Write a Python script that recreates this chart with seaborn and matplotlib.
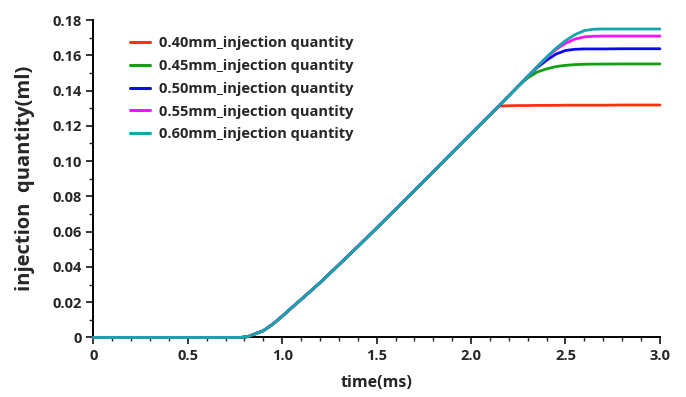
import numpy as np
import pandas as pd
import matplotlib
matplotlib.use("Agg")
import matplotlib.pyplot as plt
from matplotlib.ticker import MultipleLocator, FuncFormatter
import seaborn as sns

# Sampling times (ms)
time_ms = [0, 0.5, 0.78, 0.82, 0.86, 0.9, 0.95, 1.0, 1.05, 1.1, 1.2, 1.3, 1.4,
           1.5, 1.6, 1.7, 1.8, 1.9, 2.0, 2.1,
           2.15, 2.2, 2.25, 2.3, 2.35, 2.4, 2.45, 2.5, 2.55, 2.6, 2.65, 2.7, 2.8, 3.0]

# Shared rising part (all openings coincide until ~2.1 ms)
rise_common = [0, 0, 0, 0.0005, 0.0022, 0.0038, 0.0075, 0.0120, 0.0168, 0.0215,
               0.0310, 0.0412, 0.0515, 0.0620, 0.0726, 0.0833, 0.0940, 0.1048,
               0.1155, 0.1262]

# Tail of each curve from 2.15 ms on (ml)
tail_040 = [0.1312, 0.1314, 0.1315, 0.1315, 0.1316, 0.1316, 0.1316, 0.1317,
            0.1317, 0.1317, 0.1317, 0.1317, 0.1318, 0.1318]
tail_045 = [0.1316, 0.1370, 0.1425, 0.1472, 0.1505, 0.1523, 0.1536, 0.1543,
            0.1547, 0.1549, 0.1550, 0.1550, 0.1551, 0.1551]
tail_050 = [0.1316, 0.1370, 0.1425, 0.1480, 0.1530, 0.1572, 0.1607, 0.1627,
            0.1634, 0.1636, 0.1636, 0.1636, 0.1637, 0.1637]
tail_055 = [0.1316, 0.1370, 0.1425, 0.1480, 0.1535, 0.1588, 0.1633, 0.1668,
            0.1692, 0.1704, 0.1708, 0.1709, 0.1709, 0.1709]
tail_060 = [0.1316, 0.1370, 0.1425, 0.1480, 0.1535, 0.1590, 0.1640, 0.1683,
            0.1717, 0.1740, 0.1748, 0.1749, 0.1749, 0.1749]

series_labels = ["0.40mm_injection quantity", "0.45mm_injection quantity",
                 "0.50mm_injection quantity", "0.55mm_injection quantity",
                 "0.60mm_injection quantity"]
series_tails = [tail_040, tail_045, tail_050, tail_055, tail_060]
series_colors = ["#ff3010", "#10a010", "#0a0af0", "#ff10ff", "#10a8a8"]

x_ticks = [0, 0.5, 1.0, 1.5, 2.0, 2.5, 3.0]
y_ticks = [0, 0.02, 0.04, 0.06, 0.08, 0.10, 0.12, 0.14, 0.16, 0.18]

frames = []
for label, tail in zip(series_labels, series_tails):
    frames.append(pd.DataFrame({"time": time_ms,
                                "quantity": rise_common + tail,
                                "series": label}))
df = pd.concat(frames, ignore_index=True)

sns.set_theme(style="ticks")
plt.rcParams["font.family"] = ["Open Sans", "DejaVu Sans"]

fig = plt.figure(figsize=(6.86, 3.97), dpi=100)
ax = fig.add_axes([0.136, 0.150, 0.826, 0.7996])

sns.lineplot(data=df, x="time", y="quantity", hue="series",
             hue_order=series_labels, palette=series_colors,
             linewidth=2.0, ax=ax, sort=False, estimator=None)
# let the curves sit on top of the axis line at zero
for line in ax.get_lines():
    line.set_clip_on(False)
    line.set_zorder(5)

ax.set_xlim(0, 3.0)
ax.set_ylim(0, 0.18)
ax.set_xticks(x_ticks)
ax.set_yticks(y_ticks)
ax.xaxis.set_minor_locator(MultipleLocator(0.1))
ax.yaxis.set_minor_locator(MultipleLocator(0.01))
ax.xaxis.set_major_formatter(FuncFormatter(lambda v, p: "0" if v == 0 else f"{v:.1f}"))
ax.yaxis.set_major_formatter(FuncFormatter(lambda v, p: "0" if v == 0 else f"{v:.2f}"))

for lbl in ax.get_xticklabels() + ax.get_yticklabels():
    lbl.set_fontweight("bold")
    lbl.set_fontsize(10.5)
ax.tick_params(axis="both", which="major", direction="out", length=5, width=1.3, pad=3)
ax.tick_params(axis="both", which="minor", direction="out", length=3, width=1.0)

for side in ["top", "right"]:
    ax.spines[side].set_visible(False)
for side in ["left", "bottom"]:
    ax.spines[side].set_linewidth(1.4)
    ax.spines[side].set_color("black")

ax.set_xlabel("time(ms)", fontsize=11.5, fontweight="bold", labelpad=9)
ax.set_ylabel("injection  quantity(ml)", fontsize=14.5, fontweight="bold", labelpad=13)

leg = ax.legend(loc="upper left", bbox_to_anchor=(0.041, 0.99), frameon=False,
                handlelength=1.4, handletextpad=0.6, labelspacing=0.6,
                prop={"weight": "bold", "size": 10.5})
for line in leg.get_lines():
    line.set_linewidth(2.2)

fig.savefig("out.png", dpi=100)
